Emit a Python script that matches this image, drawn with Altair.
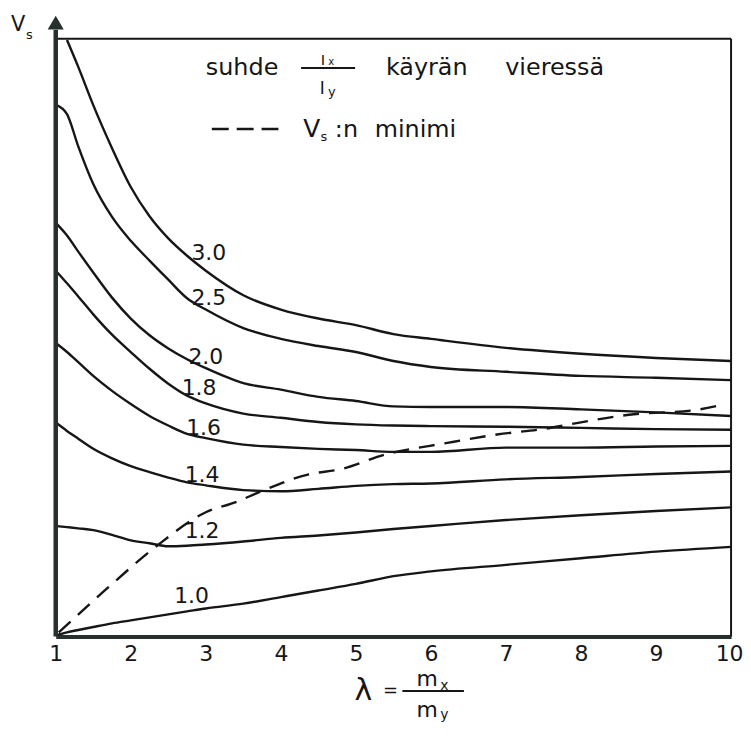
import altair as alt
import pandas as pd

FONT = "DejaVu Sans"
INK = "#161616"
AXIS_INK = "#26302c"

# ---- data (V_s in arbitrary units, 0..100 = bottom..top of frame)
LAMBDA = [1.0, 1.15, 1.3, 1.5, 1.75, 2.0, 2.25, 2.5, 2.75, 3.0, 3.5, 4.0, 4.5, 5.0, 5.5, 6.0, 7.0, 8.0, 9.0, 10.0]
V_30 = [None, 99.8, 95.3, 88.9, 81.7, 75.2, 70.3, 66.6, 63.7, 61.2, 57.1, 54.7, 53.2, 52.1, 50.6, 49.8, 48.3, 47.3, 46.6, 46.1]
V_25 = [89.0, 87.4, 82.0, 75.7, 70.2, 66.2, 62.9, 59.7, 56.6, 54.7, 51.6, 49.8, 48.6, 47.6, 46.1, 45.1, 44.3, 43.6, 43.3, 42.9]
V_20 = [69.2, 67.1, 64.4, 60.9, 56.7, 53.2, 50.4, 48.2, 46.4, 44.9, 42.4, 41.3, 40.1, 39.4, 38.5, 38.4, 38.4, 38.0, 37.5, 36.9]
V_18 = [61.2, 59.1, 56.9, 53.9, 50.5, 47.6, 44.8, 42.3, 40.3, 39.0, 37.3, 36.6, 35.9, 35.5, 35.3, 35.2, 35.1, 34.9, 34.7, 34.6]
V_16 = [49.1, 47.6, 45.9, 43.6, 41.1, 38.9, 36.9, 35.3, 33.9, 33.2, 32.1, 31.7, 31.4, 31.2, 30.9, 30.9, 31.6, 31.6, 31.8, 31.9]
V_14 = [35.8, 34.4, 33.1, 31.4, 29.8, 28.5, 27.5, 26.6, 25.8, 25.3, 24.5, 24.3, 24.7, 25.2, 25.5, 25.6, 26.3, 26.7, 27.2, 27.6]
V_12 = [18.5, 18.3, 18.1, 17.8, 17.0, 16.1, 15.6, 15.1, 15.2, 15.4, 15.9, 16.5, 16.9, 17.4, 18.0, 18.5, 19.5, 20.3, 21.0, 21.6]
V_10 = [0.2, 0.7, 1.1, 1.6, 2.2, 2.7, 3.2, 3.7, 4.2, 4.7, 5.5, 6.6, 7.7, 8.8, 10.1, 10.9, 12.0, 13.1, 14.2, 15.0]

CURVE_NAMES = ["3.0", "2.5", "2.0", "1.8", "1.6", "1.4", "1.2", "1.0"]
CURVE_VALUES = [V_30, V_25, V_20, V_18, V_16, V_14, V_12, V_10]

# dashed "V_s:n minimi" curve
MIN_LAMBDA = [1.04, 1.68, 2.34, 3.00, 3.40, 3.74, 4.36, 4.80, 5.38, 6.22, 6.88, 7.54, 7.98, 8.64, 9.53, 9.89]
MIN_V = [0.7, 8.0, 15.1, 20.8, 22.5, 24.3, 27.1, 28.0, 30.4, 32.4, 33.8, 34.8, 35.8, 37.1, 37.9, 38.8]

# curve labels
LABEL_LAM = [3.04, 3.04, 3.00, 2.91, 2.97, 2.95, 2.95, 2.81]
LABEL_V = [64.1, 56.7, 46.8, 41.6, 34.9, 27.1, 17.6, 6.8]

TICKS = [1, 2, 3, 4, 5, 6, 7, 8, 9, 10]

X_SCALE = alt.Scale(domain=[1, 10], nice=False, zero=False)
Y_SCALE = alt.Scale(domain=[0, 100], nice=False, zero=False)
X_AXIS = alt.Axis(
    values=TICKS, format="d", title="", grid=False, ticks=False, tickSize=0,
    domain=True, domainColor=AXIS_INK, domainWidth=4,
    labelFont=FONT, labelFontSize=22, labelColor=INK, labelPadding=17,
    labelBaseline="middle", labelFlush=False, labelOverlap=False, labelBound=False,
    labelOffset={"condition": {"test": "datum.value == 10", "value": -2}, "value": 0},
)


def X(field="lam"):
    return alt.X(f"{field}:Q", scale=X_SCALE, axis=X_AXIS)


def Y(field="v"):
    return alt.Y(f"{field}:Q", scale=Y_SCALE, axis=None)


def text_layer(texts, lams, vs, size, align="center", baseline="alphabetic"):
    df = pd.DataFrame({"t": texts, "lam": lams, "v": vs})
    return alt.Chart(df).mark_text(
        font=FONT, fontSize=size, align=align, baseline=baseline, color=INK
    ).encode(x=X(), y=Y(), text="t:N")


def rule_layer(rows, width, color=INK, dash=None):
    df = pd.DataFrame(rows)
    kw = dict(color=color, strokeWidth=width)
    if dash is not None:
        kw["strokeDash"] = dash
    enc = dict(x=X(), y=Y())
    if "lam2" in df.columns:
        enc["x2"] = alt.X2("lam2:Q")
    if "v2" in df.columns:
        enc["y2"] = alt.Y2("v2:Q")
    return alt.Chart(df).mark_rule(**kw).encode(**enc)


# ---- curves
rows = []
for name, vals in zip(CURVE_NAMES, CURVE_VALUES):
    for lam, v in zip(LAMBDA, vals):
        if v is not None:
            rows.append({"curve": name, "lam": lam, "v": v})
curves_df = pd.DataFrame(rows)

curves = alt.Chart(curves_df).mark_line(
    color=INK, strokeWidth=2.4, interpolate="monotone"
).encode(x=X(), y=Y(), detail="curve:N")

minimum = alt.Chart(pd.DataFrame({"lam": MIN_LAMBDA, "v": MIN_V})).mark_line(
    color=INK, strokeWidth=2.4, strokeDash=[16, 10], interpolate="monotone"
).encode(x=X(), y=Y())

curve_labels = text_layer(CURVE_NAMES, LABEL_LAM, LABEL_V, 22, baseline="middle")

# ---- frame and axes
frame_top = rule_layer([{"lam": 1, "lam2": 10, "v": 100}], 2)
frame_right = rule_layer([{"lam": 10, "v": 0, "v2": 100}], 2)
left_axis = rule_layer([{"lam": 1, "v": 0, "v2": 101.5}], 4.5, color=AXIS_INK)
arrow = alt.Chart(pd.DataFrame({"lam": [1], "v": [102.7]})).mark_point(
    shape="triangle-up", filled=True, size=260, color=AXIS_INK, opacity=1
).encode(x=X(), y=Y())

vs_main = text_layer(["V"], [0.50], [101.3], 21)
vs_sub = text_layer(["s"], [0.65], [99.9], 13)

# ---- legend box text
legend_words = text_layer(
    ["suhde", "käyrän", "vieressä", ":n", "minimi"],
    [3.0, 5.40, 6.99, 4.72, 5.25],
    [94.0, 94.0, 94.0, 83.5, 83.5],
    24, align="left",
)
legend_v = text_layer(["V"], [4.30], [83.5], 25, align="left")
legend_v_sub = text_layer(["s"], [4.53], [82.9], 13, align="left")
frac_bar = rule_layer([{"lam": 4.27, "lam2": 4.99, "v": 95.1}], 2)
frac_num = text_layer(["I"], [4.56], [95.7], 15)
frac_num_sub = text_layer(["x"], [4.67], [95.7], 10)
frac_den = text_layer(["I"], [4.55], [90.7], 17)
frac_den_sub = text_layer(["y"], [4.68], [90.4], 13)
legend_dash = rule_layer([{"lam": 3.08, "lam2": 3.97, "v": 84.9}], 2.4, dash=[17, 8])

# ---- x axis title: lambda = m_x / m_y
lam_sym = text_layer(["λ"], [5.10], [-9.2], 30, baseline="middle")
eq_sym = text_layer(["="], [5.46], [-9.1], 18, baseline="middle")
mx = text_layer(["m"], [5.95], [-8.3], 22)
mx_sub = text_layer(["x"], [6.18], [-8.9], 14)
my = text_layer(["m"], [5.95], [-13.5], 22)
my_sub = text_layer(["y"], [6.18], [-13.8], 14)
title_bar = rule_layer([{"lam": 5.62, "lam2": 6.44, "v": -9.1}], 2)

chart = alt.layer(
    curves, minimum, curve_labels,
    frame_top, frame_right, left_axis, arrow, vs_main, vs_sub,
    legend_words, legend_v, legend_v_sub, frac_bar, frac_num, frac_num_sub,
    frac_den, frac_den_sub, legend_dash,
    lam_sym, eq_sym, mx, mx_sub, my, my_sub, title_bar,
).properties(
    width=679,
    height=601,
    padding={"left": 48, "top": 29, "right": 12, "bottom": 92},
    autosize=alt.AutoSizeParams(type="none"),
    background="white",
).configure_view(stroke=None)

chart.save("out.html", embed_options={"renderer": "svg", "actions": False})
